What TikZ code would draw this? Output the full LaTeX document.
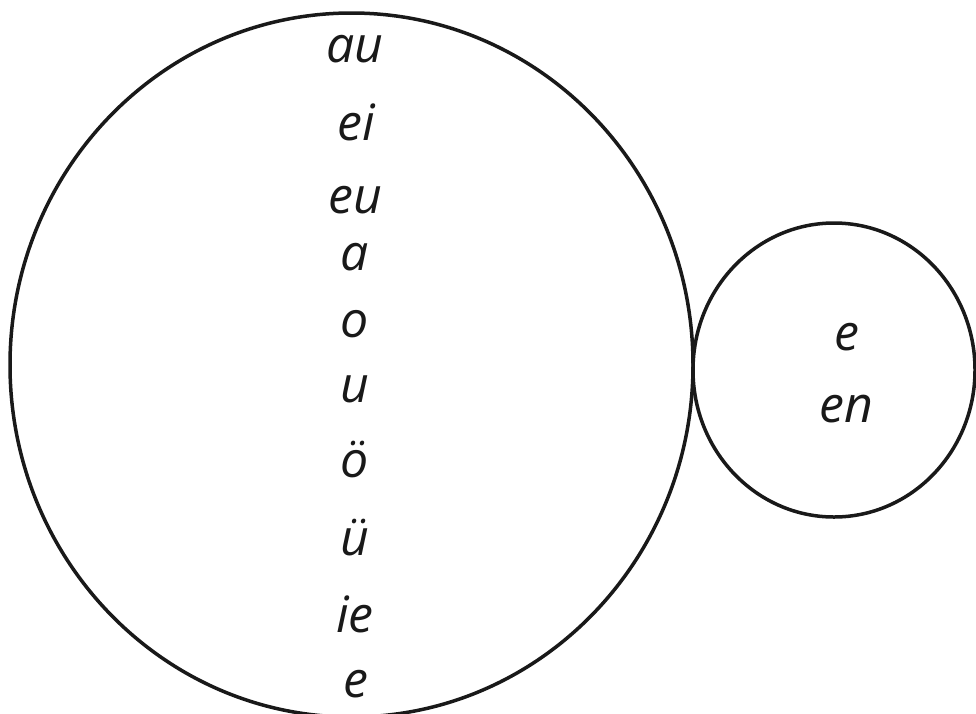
\documentclass[tikz,border=0pt]{standalone}
\usepackage{fontspec}
\setmainfont{Open Sans}
\begin{document}
\begin{tikzpicture}[x=1pt,y=-1pt,
  ring/.style={draw=black!90, line width=3.5pt},
  lbl/.style={inner sep=0pt, anchor=base, text=black!90, font=\fontsize{50}{58}\selectfont\itshape}]
\useasboundingbox (0,0) rectangle (976,713);
\coordinate (bigc) at (351.5,365);
\coordinate (smallc) at (834,370);
\draw[ring] (bigc) ellipse [x radius=341.5pt, y radius=352pt];
\draw[ring] (smallc) ellipse [x radius=141pt, y radius=147pt];
\node[lbl] (t1) at (355,62) {au};
\node[lbl] (t2) at (356,140) {ei};
\node[lbl] (t3) at (355,213) {eu};
\node[lbl] (t4) at (355,270) {a};
\node[lbl] (t5) at (355,337) {o};
\node[lbl] (t6) at (355,402) {u};
\node[lbl] (t7) at (355,477) {ö};
\node[lbl] (t8) at (355,555) {ü};
\node[lbl] (t9) at (355,632) {ie};
\node[lbl] (t10) at (356,697) {e};
\node[lbl] (s1) at (847,350) {e};
\node[lbl] (s2) at (846,422) {en};
\end{tikzpicture}
\end{document}
